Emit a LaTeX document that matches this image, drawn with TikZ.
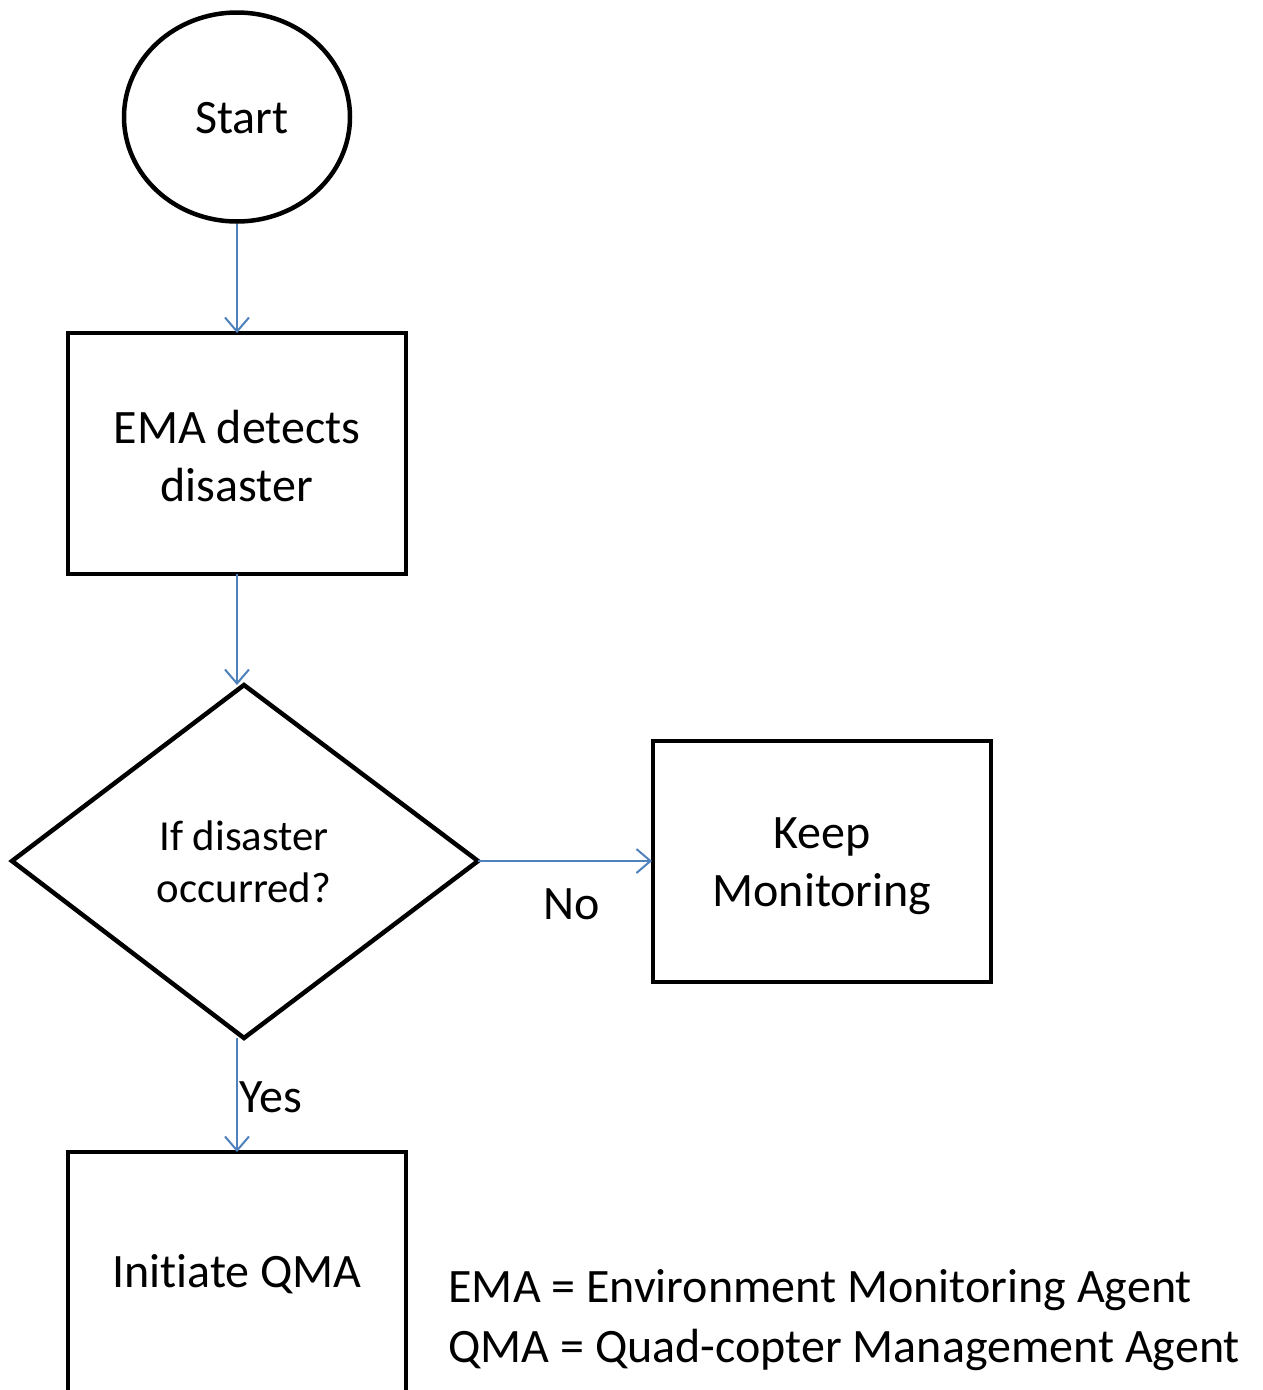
\documentclass[tikz,border=0pt]{standalone}
\usepackage{fontspec}
\setmainfont[Ligatures={NoCommon}]{Carlito}
\usetikzlibrary{shapes.geometric,arrows.meta}
\definecolor{lineblue}{RGB}{79,129,189}
\begin{document}
\begin{tikzpicture}[x=1pt,y=-1pt,
  box/.style={draw=black,line width=4.5pt,fill=white},
  conn/.style={draw=lineblue,line width=2pt,-{Straight Barb[length=14pt,width=24pt,line width=2pt]}},
  bigtxt/.style={font=\fontsize{48}{58}\selectfont,align=center},
  midtxt/.style={font=\fontsize{42.8}{52}\selectfont,align=center}]
\useasboundingbox (0,0) rectangle (1262,1390);
\fill[white] (0,0) rectangle (1262,1390);
\begin{scope}
\clip (0,0) rectangle (1262,1390);
% Start
\node[draw=black,line width=4.5pt,ellipse,minimum width=226pt,minimum height=209pt,inner sep=0pt] (start) at (237,117) {};
\node[bigtxt] (starttxt) at (242,118) {Start};
% EMA box
\draw[box] (68,333) rectangle (406,574);
\coordinate (ematop) at (237,333);
\coordinate (emabot) at (237,574);
\node[bigtxt] (ematxt) at (237,456) {EMA detects\\disaster};
% diamond
\draw[box] (12,861) -- (244,685) -- (478,861) -- (244,1038) -- cycle;
\coordinate (dtop) at (237,685);
\coordinate (dright) at (478,861);
\coordinate (dbot) at (237,1038);
\node[midtxt] (dtxt) at (244,862) {If disaster\\occurred?};
% Keep monitoring
\draw[box] (653,741) rectangle (991,982);
\coordinate (kleft) at (652,861);
\node[bigtxt] (ktxt) at (822,866) {Keep\\Monitoring};
% Initiate QMA
\draw[box] (68,1152) rectangle (406,1420);
\coordinate (qtop) at (237,1152);
\node[bigtxt] (qtxt) at (237,1274) {Initiate QMA};
% connectors
\draw[conn] (start.south) -- (ematop);
\draw[conn] (emabot) -- (dtop);
\draw[conn] (dright) -- (kleft);
\draw[conn] (dbot) -- (qtop);
\node[bigtxt] (no) at (572,904) {No};
\node[bigtxt] (yes) at (271,1097) {Yes};
% legend
\node[font=\fontsize{48}{60}\selectfont,align=left,anchor=west] (leg) at (445,1320) {EMA = Environment Monitoring Agent\\QMA = Quad-copter Management Agent};
\end{scope}
\end{tikzpicture}
\end{document}
